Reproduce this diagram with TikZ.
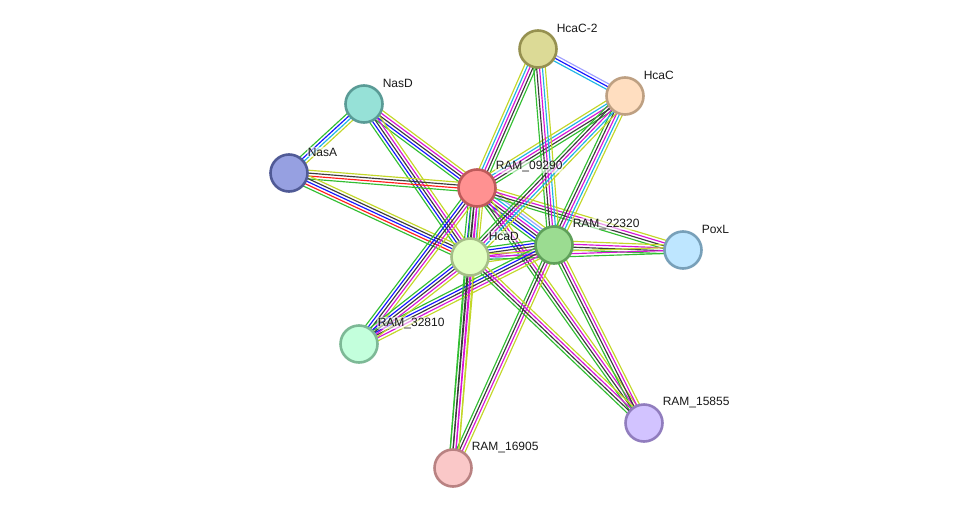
\documentclass[tikz,border=0pt]{standalone}
\usepackage{fontspec}
\setmainfont{Liberation Sans}
\usetikzlibrary{calc,backgrounds}
\definecolor{egrn}{RGB}{50,190,50}
\definecolor{ered}{RGB}{255,30,30}
\definecolor{eblu}{RGB}{20,20,255}
\definecolor{eblk}{RGB}{60,60,60}
\definecolor{emag}{RGB}{215,20,215}
\definecolor{ecyn}{RGB}{30,180,230}
\definecolor{eyel}{RGB}{195,215,40}
\definecolor{elav}{RGB}{160,160,255}
\tikzset{
  prot/.style={circle,minimum size=37pt,inner sep=0pt,line width=2.6pt},
  plabel/.style={anchor=west,font=\fontsize{12}{14}\selectfont,text=black!90,inner sep=0.6pt,fill=white,fill opacity=0.55,text opacity=1},
  evline/.style={line width=1.15pt}
}
\newcommand\sedge[4]{%
  \foreach \c [count=\i] in {#4}{%
    \pgfmathsetmacro\off{(\i-(#3+1)/2)*2.9}%
    \draw[evline,\c] ($(#1.center)!\off pt!90:(#2.center)$) -- ($(#2.center)!\off pt!-90:(#1.center)$);
  }%
}
\begin{document}
\begin{tikzpicture}[x=1pt,y=-1pt]
\useasboundingbox (0,0) rectangle (976,514);
% nodes
\node[prot,fill={rgb,255:red,220;green,218;blue,150},draw={rgb,255:red,150;green,145;blue,80}] (hc2) at (538,49) {};
\node[prot,fill={rgb,255:red,255;green,222;blue,192},draw={rgb,255:red,190;green,160;blue,130}] (hc) at (625,96) {};
\node[prot,fill={rgb,255:red,150;green,225;blue,215},draw={rgb,255:red,90;green,155;blue,150}] (nasd) at (364,104) {};
\node[prot,fill={rgb,255:red,150;green,160;blue,225},draw={rgb,255:red,80;green,90;blue,150}] (nasa) at (289,173) {};
\node[prot,fill={rgb,255:red,255;green,145;blue,145},draw={rgb,255:red,190;green,90;blue,90}] (r09) at (477,188) {};
\node[prot,fill={rgb,255:red,155;green,220;blue,145},draw={rgb,255:red,95;green,160;blue,90}] (r22) at (554,245) {};
\node[prot,fill={rgb,255:red,225;green,255;blue,195},draw={rgb,255:red,165;green,190;blue,135}] (hcad) at (470,257) {};
\node[prot,fill={rgb,255:red,190;green,230;blue,255},draw={rgb,255:red,120;green,160;blue,185}] (poxl) at (683,250) {};
\node[prot,fill={rgb,255:red,195;green,255;blue,220},draw={rgb,255:red,125;green,185;blue,150}] (r32) at (359,344) {};
\node[prot,fill={rgb,255:red,210;green,195;blue,255},draw={rgb,255:red,145;green,125;blue,190}] (r15) at (644,423) {};
\node[prot,fill={rgb,255:red,250;green,200;blue,200},draw={rgb,255:red,185;green,130;blue,130}] (r16) at (453,468) {};
% labels
\node[plabel] (l_hc2) at (556,28) {HcaC-2};
\node[plabel] (l_hc) at (643,75) {HcaC};
\node[plabel] (l_nasd) at (382,83) {NasD};
\node[plabel] (l_nasa) at (307,152) {NasA};
\node[plabel] (l_r09) at (495,167) {RAM\_09290};
\node[plabel] (l_r22) at (572,224) {RAM\_22320};
\node[plabel] (l_hcad) at (488,236) {HcaD};
\node[plabel] (l_poxl) at (701,229) {PoxL};
\node[plabel] (l_r32) at (377,323) {RAM\_32810};
\node[plabel] (l_r15) at (662,402) {RAM\_15855};
\node[plabel] (l_r16) at (471,447) {RAM\_16905};
% edges
\begin{scope}[on background layer]
\fill[white] (0,0) rectangle (976,514);
\sedge{hc2}{hc}{3}{ecyn,eblu,elav}
\sedge{nasd}{nasa}{4}{egrn,eblu,ecyn,eyel}
\sedge{nasd}{r09}{5}{egrn,eblu,eblk,emag,eyel}
\sedge{nasd}{hcad}{5}{egrn,eblu,eblk,emag,eyel}
\sedge{nasa}{r09}{4}{egrn,ered,eblk,eyel}
\sedge{nasa}{hcad}{5}{egrn,ered,eblu,eblk,eyel}
\sedge{r09}{hc2}{5}{egrn,eblk,emag,ecyn,eyel}
\sedge{r09}{hc}{5}{egrn,eblk,emag,ecyn,eyel}
\sedge{r09}{r22}{7}{egrn,eblu,eblk,emag,ecyn,elav,eyel}
\sedge{r09}{hcad}{6}{egrn,eblu,eblk,emag,ecyn,eyel}
\sedge{r09}{poxl}{4}{egrn,eblk,emag,eyel}
\sedge{r09}{r32}{5}{egrn,eblu,eblk,emag,eyel}
\sedge{r09}{r16}{4}{egrn,eblk,emag,eyel}
\sedge{r09}{r15}{4}{egrn,eblk,emag,eyel}
\sedge{hc2}{r22}{5}{egrn,eblk,emag,ecyn,eyel}
\sedge{hc}{r22}{5}{egrn,eblk,emag,ecyn,eyel}
\sedge{hc}{hcad}{5}{egrn,eblk,emag,ecyn,eyel}
\sedge{r22}{hcad}{6}{egrn,eblu,eblk,emag,elav,eyel}
\sedge{r22}{poxl}{4}{egrn,eblk,emag,eyel}
\sedge{hcad}{poxl}{3}{egrn,emag,eyel}
\sedge{r22}{r32}{5}{egrn,eblu,eblk,emag,eyel}
\sedge{hcad}{r32}{5}{egrn,eblu,eblk,emag,eyel}
\sedge{r22}{r16}{4}{egrn,eblk,emag,eyel}
\sedge{hcad}{r16}{4}{egrn,eblk,emag,eyel}
\sedge{r22}{r15}{4}{egrn,eblk,emag,eyel}
\sedge{hcad}{r15}{4}{egrn,eblk,emag,eyel}
\end{scope}
\end{tikzpicture}
\end{document}
